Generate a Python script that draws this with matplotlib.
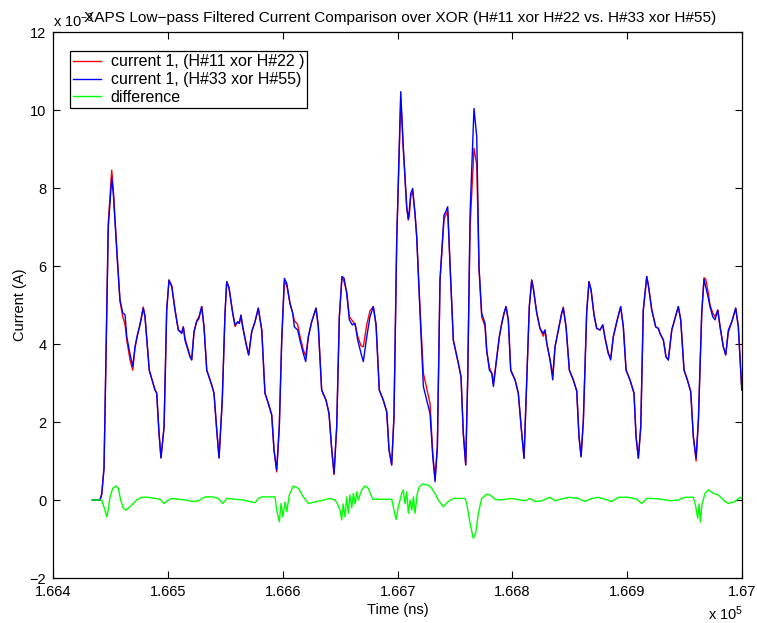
import matplotlib
matplotlib.use("Agg")
import matplotlib.pyplot as plt
from matplotlib.ticker import FuncFormatter

plt.rcParams['font.family'] = ['Liberation Sans', 'DejaVu Sans']
plt.rcParams['mathtext.fontset'] = 'custom'
plt.rcParams['mathtext.rm'] = 'Liberation Sans'
plt.rcParams['mathtext.it'] = 'Liberation Sans'

# time axis (ns), values in units of 1e-3 A
t_ns = [166434.0, 166440.7, 166442.2, 166444.2, 166447.9, 166450.9, 166452.3, 166455.8, 166458.1, 166460.5,
        166462.5, 166464.0, 166466.8, 166469.2, 166471.2, 166473.2, 166475.5, 166478.4, 166479.9, 166483.6,
        166488.6, 166490.1, 166492.1, 166493.8, 166496.5, 166498.8, 166500.8, 166503.2, 166506.0, 166508.9,
        166511.9, 166513.3, 166514.7, 166519.1, 166520.6, 166522.6, 166524.9, 166526.9, 166529.3, 166531.3,
        166533.7, 166538.0, 166540.0, 166542.4, 166544.4, 166547.2, 166549.6, 166551.1, 166553.1, 166556.3,
        166558.3, 166560.7, 166562.1, 166563.5, 166565.0, 166568.5, 166570.2, 166572.9, 166575.7, 166578.6,
        166581.6, 166584.4, 166587.3, 166590.3, 166592.3, 166594.6, 166596.9, 166599.0, 166601.3, 166603.4,
        166606.2, 166608.6, 166610.0, 166612.9, 166614.9, 166617.8, 166619.9, 166622.2, 166625.1, 166628.9,
        166630.9, 166633.8, 166637.6, 166640.2, 166642.6, 166644.6, 166646.9, 166649.2, 166651.5, 166653.3,
        166655.6, 166657.9, 166660.5, 166662.9, 166665.2, 166668.1, 166670.1, 166673.1, 166675.9, 166678.8,
        166681.2, 166684.0, 166687.5, 166690.5, 166692.5, 166694.8, 166696.8, 166699.2, 166702.7, 166704.9,
        166707.9, 166709.3, 166710.2, 166711.4, 166713.1, 166715.1, 166716.6, 166719.5, 166722.4, 166728.2,
        166730.6, 166732.6, 166734.6, 166736.9, 166740.4, 166741.9, 166743.6, 166745.6, 166748.5, 166752.9,
        166755.2, 166757.2, 166759.3, 166761.0, 166763.1, 166766.5, 166768.9, 166770.9, 166773.2, 166776.1,
        166777.6, 166779.9, 166782.0, 166783.4, 166784.8, 166786.8, 166788.6, 166790.7, 166792.7, 166794.4,
        166796.4, 166798.5, 166802.3, 166805.1, 166808.1, 166810.1, 166812.5, 166814.7, 166816.8, 166818.2,
        166821.2, 166824.0, 166826.9, 166828.4, 166829.9, 166832.8, 166835.1, 166837.1, 166840.0, 166842.9,
        166844.3, 166846.7, 166849.6, 166853.0, 166856.0, 166858.0, 166859.8, 166861.8, 166864.7, 166866.7,
        166868.5, 166871.1, 166873.4, 166876.3, 166878.7, 166880.7, 166883.5, 166885.6, 166887.9, 166890.9,
        166894.3, 166896.6, 166899.0, 166902.4, 166905.9, 166907.7, 166909.7, 166911.8, 166914.0, 166917.0,
        166918.4, 166921.4, 166924.8, 166927.1, 166928.6, 166931.5, 166933.8, 166935.8, 166938.8, 166941.7,
        166944.5, 166946.6, 166949.5, 166952.4, 166955.3, 166957.6, 166960.0, 166962.0, 166964.9, 166966.9,
        166968.4, 166970.7, 166972.1, 166974.5, 166976.5, 166978.9, 166980.9, 166983.7, 166985.8, 166988.1,
        166991.1, 166994.5, 166996.8, 166999.8]

# current 1, (H#11 xor H#22 )
cur_a = [0.0, 0.0, 0.15, 0.82, 7.1, 8.46, 7.95, 6.2, 5.1, 4.7,
         4.5, 4.1, 3.6, 3.33, 3.9, 4.2, 4.5, 4.95, 4.7, 3.33,
         2.82, 2.74, 1.72, 1.08, 1.87, 4.87, 5.64, 5.5, 4.9, 4.36,
         4.3, 4.44, 4.15, 3.7, 3.6, 4.3, 4.6, 4.7, 4.96, 4.44,
         3.33, 2.95, 2.74, 1.79, 1.08, 2.56, 4.79, 5.6, 5.45, 4.8,
         4.45, 4.57, 4.53, 4.74, 4.44, 3.93, 3.72, 4.32, 4.57, 4.92,
         4.36, 2.74, 2.48, 2.18, 1.28, 0.72, 1.88, 4.1, 5.6, 5.5,
         5.04, 4.79, 4.6, 4.5, 4.2, 3.85, 3.7, 4.19, 4.57, 4.92,
         4.44, 2.82, 2.56, 2.22, 1.28, 0.65, 1.88, 4.7, 5.73, 5.6,
         5.35, 4.7, 4.6, 4.5, 4.2, 3.95, 3.93, 4.5, 4.85, 4.96,
         4.49, 2.82, 2.56, 2.26, 1.28, 0.9, 2.14, 6.67, 10.3, 9.0,
         7.5, 7.18, 7.3, 7.8, 7.9, 7.35, 6.75, 4.9, 3.25, 2.48,
         1.2, 0.55, 1.37, 5.64, 7.2, 7.3, 7.4, 6.07, 4.1, 3.5,
         3.16, 1.71, 0.9, 3.08, 7.0, 9.02, 8.6, 5.9, 4.7, 4.45,
         3.8, 3.4, 3.25, 3.0, 3.3, 3.76, 4.19, 4.53, 4.79, 4.96,
         4.62, 3.33, 3.08, 2.74, 1.71, 1.07, 3.08, 4.96, 5.64, 5.43,
         4.79, 4.4, 4.2, 4.36, 4.02, 3.59, 3.2, 3.93, 4.36, 4.79,
         4.95, 4.44, 3.33, 3.08, 2.8, 1.62, 1.11, 2.05, 4.83, 5.6,
         5.4, 4.74, 4.4, 4.36, 4.49, 4.15, 3.76, 3.65, 4.19, 4.57,
         4.96, 4.44, 3.33, 3.08, 2.74, 1.62, 1.07, 1.88, 4.87, 5.73,
         5.51, 4.87, 4.44, 4.4, 4.27, 4.1, 3.67, 3.59, 4.36, 4.66,
         4.96, 4.62, 3.33, 3.08, 2.78, 1.62, 1.0, 2.05, 4.79, 5.7,
         5.66, 5.3, 5.0, 4.8, 4.7, 4.87, 4.44, 3.93, 3.72, 4.3,
         4.57, 4.92, 4.44, 2.82]

# current 1, (H#33 xor H#55)
cur_b = [0.0, 0.0, 0.15, 0.82, 7.0, 8.26, 7.85, 6.15, 5.13, 4.8,
         4.75, 4.19, 3.75, 3.42, 3.93, 4.23, 4.49, 4.92, 4.7, 3.33,
         2.82, 2.74, 1.72, 1.08, 1.87, 4.87, 5.64, 5.47, 4.87, 4.36,
         4.27, 4.44, 4.1, 3.67, 3.59, 4.32, 4.57, 4.66, 4.96, 4.44,
         3.33, 2.95, 2.74, 1.79, 1.08, 2.56, 4.79, 5.6, 5.43, 4.79,
         4.49, 4.57, 4.53, 4.74, 4.44, 3.93, 3.72, 4.32, 4.57, 4.92,
         4.36, 2.74, 2.48, 2.18, 1.28, 0.77, 1.88, 4.1, 5.68, 5.56,
         5.04, 4.79, 4.44, 4.36, 4.1, 3.76, 3.55, 4.19, 4.57, 4.92,
         4.44, 2.82, 2.56, 2.22, 1.28, 0.68, 1.88, 4.7, 5.73, 5.69,
         5.3, 4.62, 4.49, 4.53, 4.1, 3.76, 3.55, 4.19, 4.7, 4.96,
         4.49, 2.82, 2.56, 2.26, 1.28, 0.9, 2.14, 6.67, 10.47, 9.06,
         7.52, 7.2, 7.44, 7.86, 7.99, 7.35, 6.75, 4.79, 2.91, 2.22,
         1.11, 0.47, 1.37, 5.64, 7.31, 7.39, 7.52, 6.07, 4.1, 3.5,
         3.16, 1.71, 0.9, 3.08, 7.35, 10.04, 9.32, 5.98, 4.79, 4.53,
         3.85, 3.33, 3.25, 2.91, 3.25, 3.76, 4.19, 4.53, 4.79, 4.96,
         4.62, 3.33, 3.08, 2.74, 1.71, 1.07, 3.08, 4.96, 5.64, 5.43,
         4.79, 4.4, 4.27, 4.36, 4.02, 3.59, 3.08, 3.93, 4.36, 4.79,
         4.92, 4.44, 3.33, 3.08, 2.8, 1.62, 1.11, 2.05, 4.83, 5.6,
         5.38, 4.74, 4.4, 4.36, 4.49, 4.15, 3.76, 3.59, 4.19, 4.57,
         4.96, 4.44, 3.33, 3.08, 2.74, 1.62, 1.07, 1.88, 4.87, 5.73,
         5.51, 4.87, 4.44, 4.4, 4.27, 4.1, 3.67, 3.59, 4.36, 4.66,
         4.96, 4.62, 3.33, 3.08, 2.78, 1.62, 1.07, 2.05, 4.79, 5.66,
         5.47, 5.17, 4.96, 4.7, 4.62, 4.87, 4.44, 3.93, 3.72, 4.36,
         4.57, 4.92, 4.44, 2.82]

# difference trace
t_diff = [166434.0, 166442.2, 166445.0, 166446.5, 166447.9, 166449.4, 166451.8, 166454.6, 166456.6, 166458.7,
          166461.0, 166463.3, 166466.8, 166472.7, 166477.0, 166482.8, 166493.0, 166496.5, 166499.3, 166503.2,
          166508.9, 166516.2, 166522.0, 166526.3, 166532.2, 166539.4, 166543.8, 166547.6, 166551.1, 166565.5,
          166571.4, 166575.7, 166578.6, 166581.6, 166593.2, 166594.6, 166596.9, 166598.4, 166599.9, 166601.9,
          166603.4, 166605.6, 166609.1, 166613.5, 166617.8, 166622.2, 166626.5, 166632.4, 166641.1, 166645.4,
          166647.4, 166649.8, 166651.3, 166652.4, 166654.1, 166655.6, 166657.0, 166658.5, 166660.0, 166661.4,
          166662.9, 166664.3, 166665.7, 166668.7, 166671.6, 166674.4, 166678.3, 166687.5, 166694.8, 166696.8,
          166698.6, 166700.6, 166703.5, 166704.9, 166706.4, 166707.9, 166709.3, 166710.8, 166712.3, 166713.7,
          166715.1, 166717.1, 166718.9, 166721.5, 166726.7, 166729.7, 166733.2, 166735.4, 166739.8, 166743.6,
          166748.5, 166758.7, 166760.2, 166763.1, 166765.9, 166768.0, 166770.3, 166773.2, 166777.6, 166780.5,
          166784.8, 166789.2, 166799.4, 166811.0, 166815.3, 166819.7, 166825.5, 166832.8, 166837.1, 166848.7,
          166857.4, 166863.2, 166869.1, 166874.8, 166880.7, 166886.5, 166892.3, 166901.0, 166908.3, 166912.6,
          166917.0, 166922.7, 166930.1, 166937.3, 166944.5, 166950.4, 166957.6, 166959.7, 166961.4, 166962.6,
          166963.7, 166965.2, 166967.8, 166970.7, 166975.0, 166979.4, 166983.7, 166988.1, 166993.9, 166998.3,
          166999.9]
diff = [0.0, 0.0, -0.26, -0.43, -0.26, 0.08, 0.3, 0.36, 0.3, 0.0,
        -0.21, -0.26, -0.17, 0.0, 0.07, 0.07, 0.02, -0.09, -0.02, 0.04,
        0.02, 0.0, -0.04, -0.02, 0.08, 0.08, 0.04, -0.09, 0.04, 0.0,
        -0.04, -0.07, 0.04, 0.08, 0.08, -0.26, -0.56, -0.09, -0.43, -0.05,
        -0.3, 0.13, 0.36, 0.3, 0.08, -0.09, -0.06, -0.02, 0.04, 0.0,
        -0.09, -0.26, -0.51, -0.1, -0.43, 0.08, -0.34, 0.13, -0.2, 0.17,
        -0.1, 0.21, 0.0, 0.26, 0.36, 0.3, 0.02, 0.02, 0.02, -0.26,
        -0.5, -0.17, 0.17, 0.26, -0.1, 0.21, -0.34, 0.0, -0.26, 0.08,
        -0.34, 0.17, 0.34, 0.41, 0.38, 0.3, 0.13, 0.0, -0.17, -0.05,
        0.04, 0.04, -0.09, -0.6, -0.98, -0.85, -0.34, 0.04, 0.15, 0.13,
        0.02, 0.0, 0.04, -0.02, 0.04, -0.04, -0.02, 0.07, -0.02, 0.07,
        0.04, -0.04, 0.04, 0.07, 0.02, -0.04, 0.07, 0.07, 0.02, -0.09,
        0.04, 0.04, 0.02, -0.02, 0.0, 0.07, 0.07, -0.17, -0.47, -0.1,
        -0.56, -0.1, 0.17, 0.26, 0.17, 0.13, 0.0, -0.09, -0.04, 0.07,
        0.05]

labels = ['current 1, (H#11 xor H#22 )', 'current 1, (H#33 xor H#55)', 'difference']

fig = plt.figure(figsize=(7.57, 6.23), dpi=100)
ax = fig.add_axes([0.0704, 0.0722, 0.9098, 0.8764])

ax.plot(t_ns, cur_a, color='red', lw=1.0, label=labels[0])
ax.plot(t_ns, cur_b, color='blue', lw=1.0, label=labels[1])
ax.plot(t_diff, diff, color='#00ff00', lw=1.0, label=labels[2])

ax.set_xlim(166400, 167000)
ax.set_ylim(-2, 12)
ax.set_xticks([166400, 166500, 166600, 166700, 166800, 166900, 167000])
ax.set_yticks(range(-2, 13, 2))
ax.xaxis.set_major_formatter(FuncFormatter(lambda v, p: f"{v / 1e5:g}"))

ax.tick_params(direction='in', length=5, width=0.8, top=True, right=True,
               labelsize=10.5, pad=5)
for s in ax.spines.values():
    s.set_linewidth(0.9)

ax.set_xlabel('Time (ns)', fontsize=10.5, labelpad=3)
ax.set_ylabel('Current (A)', fontsize=10.5, labelpad=2)

leg = ax.legend(loc='upper left', bbox_to_anchor=(0.0242, 0.965), borderaxespad=0,
                fontsize=11.5, fancybox=False, framealpha=1, edgecolor='black',
                handlelength=1.75, handletextpad=0.6, borderpad=0.2, labelspacing=0.18)
leg.get_frame().set_linewidth(0.9)

# title and exponent labels, MATLAB style
fig.text(400 / 757, 1 - 18 / 623, 'XAPS Low\u2212pass Filtered Current Comparison over XOR (H#11 xor H#22 vs. H#33 xor H#55)',
         ha='center', va='center', fontsize=11.1)
fig.text(53 / 757, 1 - 27 / 623, 'x 10$^{\u22123}$', ha='left', va='baseline', fontsize=10.5)
fig.text(708 / 757, 1 - 620 / 623, 'x 10$^{5}$', ha='left', va='baseline', fontsize=10.5)

fig.savefig('out.png', dpi=100)
